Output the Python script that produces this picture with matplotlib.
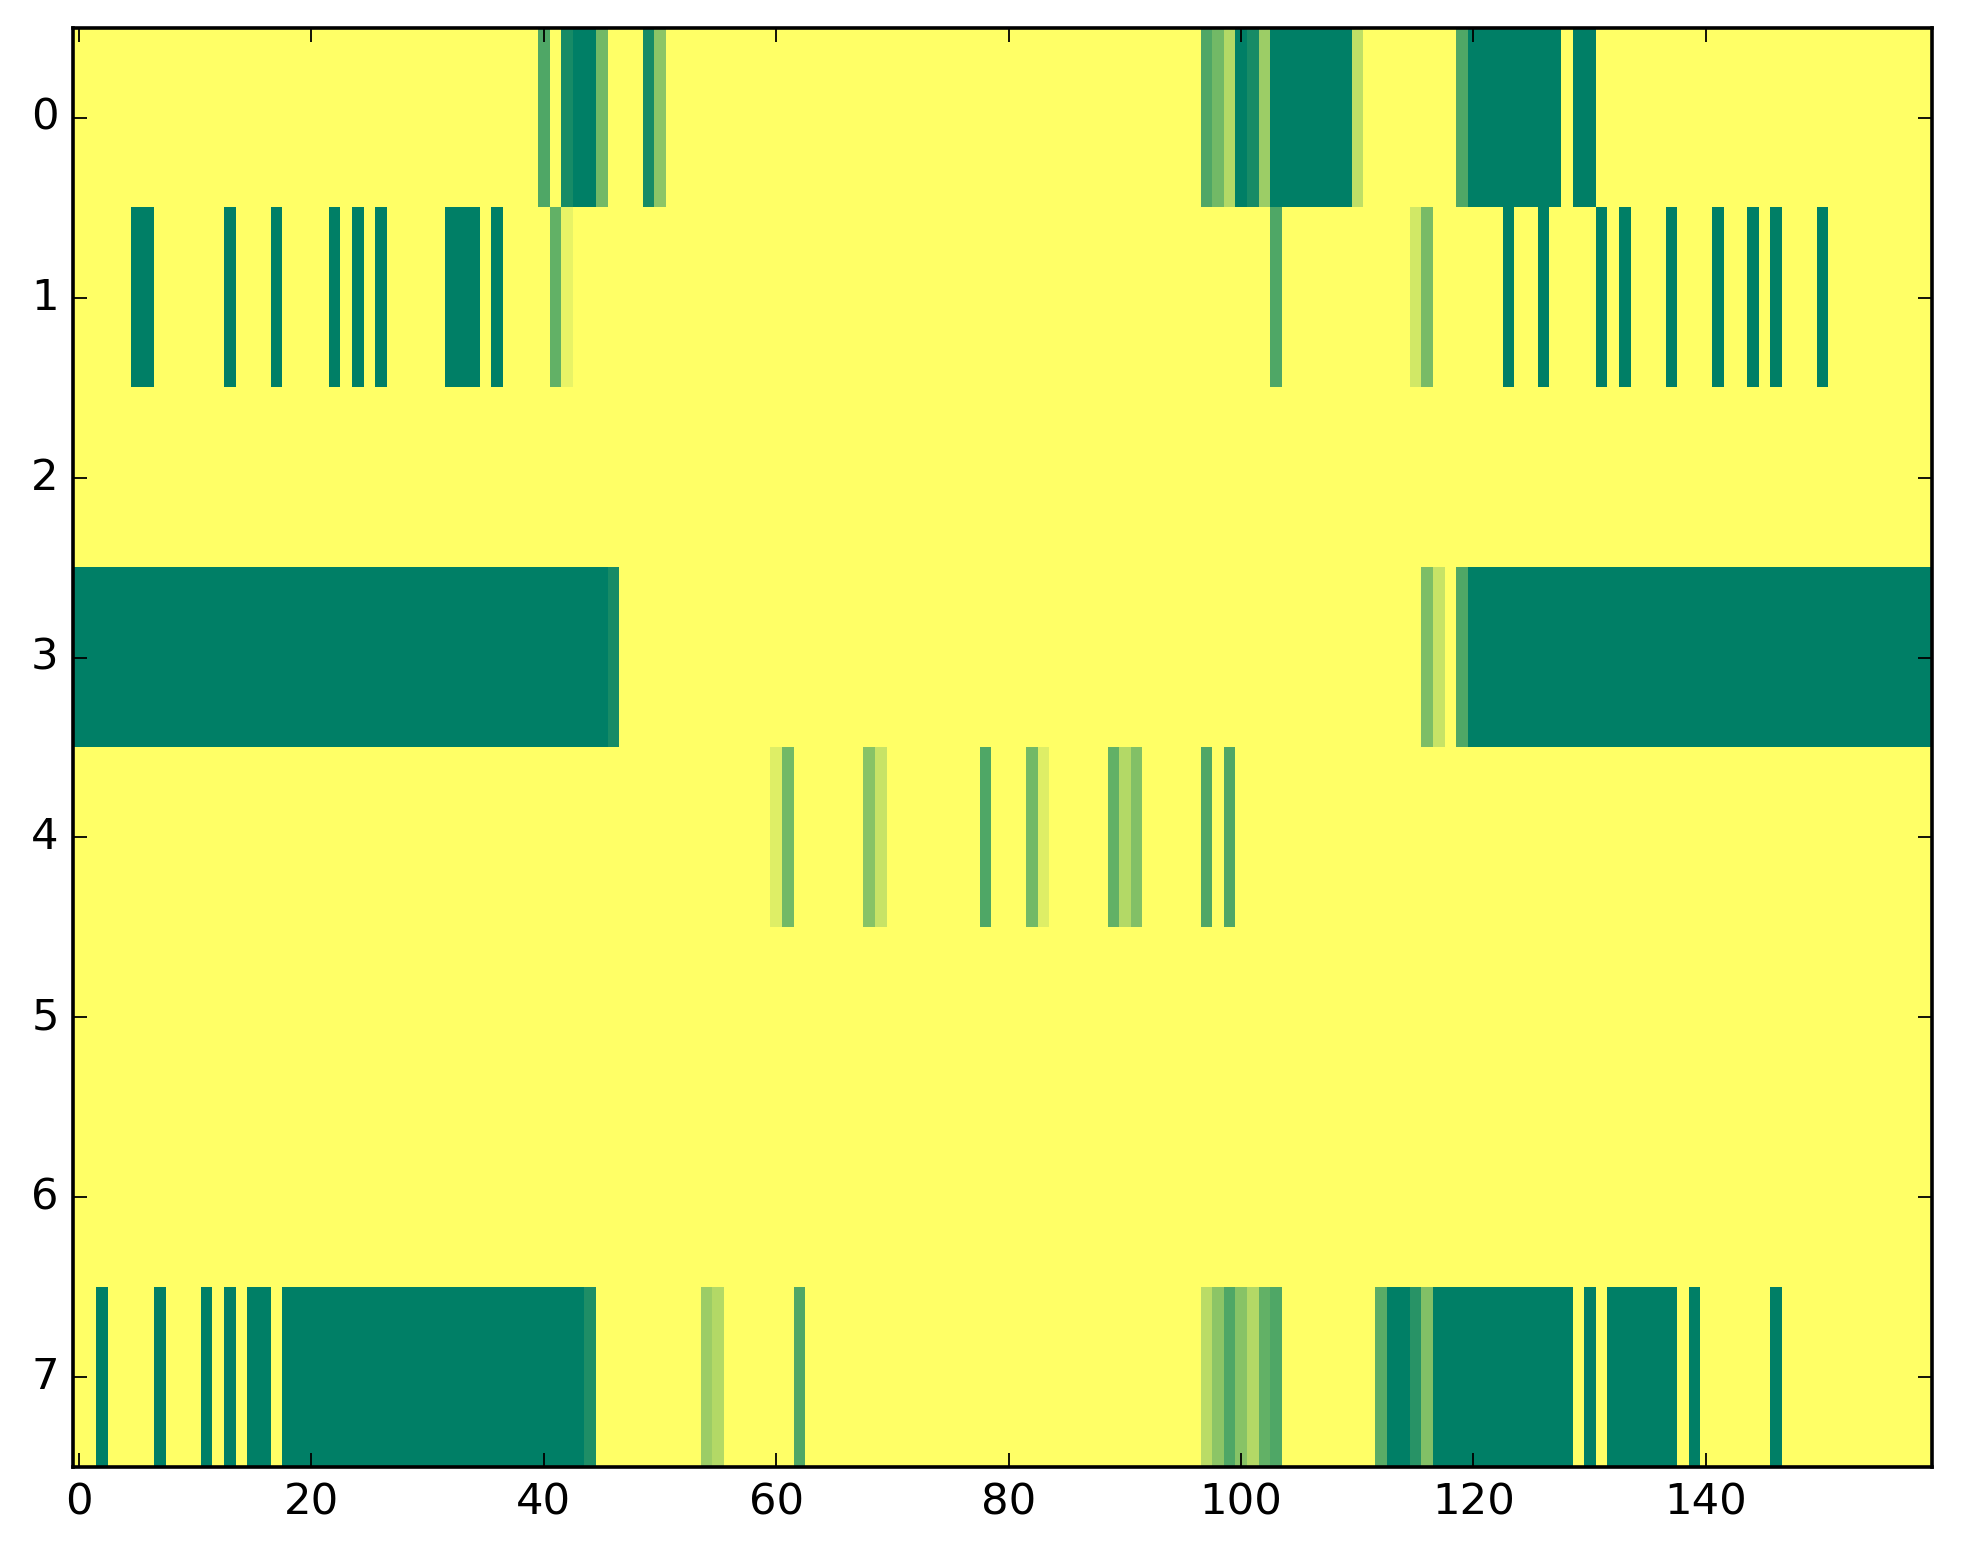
import numpy as np
import matplotlib
matplotlib.use('Agg')
import matplotlib.pyplot as plt

n_rows = 8
n_cols = 160

# (first column, last column, value) runs per row, everything else is 0
row0 = [(40, 40, 0.69), (42, 42, 0.91), (43, 44, 1.0), (45, 45, 0.55),
        (49, 49, 0.91), (50, 50, 0.45),
        (97, 97, 0.69), (98, 98, 0.55), (99, 99, 0.30), (100, 100, 1.0),
        (101, 101, 0.91), (102, 102, 0.39), (103, 109, 1.0), (110, 110, 0.25),
        (119, 119, 0.69), (120, 127, 1.0), (129, 130, 1.0)]
row1 = [(5, 6, 1.0), (13, 13, 1.0), (17, 17, 1.0), (22, 22, 1.0), (24, 24, 1.0),
        (26, 26, 1.0), (32, 34, 1.0), (36, 36, 1.0), (41, 41, 0.61), (42, 42, 0.09),
        (103, 103, 0.69), (115, 115, 0.18), (116, 116, 0.53),
        (123, 123, 1.0), (126, 126, 1.0), (131, 131, 1.0), (133, 133, 1.0),
        (137, 137, 1.0), (141, 141, 1.0), (144, 144, 1.0), (146, 146, 1.0),
        (150, 150, 1.0)]
row2 = []
row3 = [(0, 45, 1.0), (46, 46, 0.91), (116, 116, 0.51), (117, 117, 0.22),
        (119, 119, 0.69), (120, 159, 1.0)]
row4 = [(60, 60, 0.13), (61, 61, 0.55), (68, 68, 0.47), (69, 69, 0.22),
        (78, 78, 0.69), (82, 82, 0.55), (83, 83, 0.13), (89, 89, 0.61),
        (90, 90, 0.30), (91, 91, 0.49), (97, 97, 0.69), (99, 99, 0.69)]
row5 = []
row6 = []
row7 = [(2, 2, 1.0), (7, 7, 1.0), (11, 11, 1.0), (13, 13, 1.0), (15, 16, 1.0),
        (18, 43, 1.0), (44, 44, 0.88), (54, 54, 0.39), (55, 55, 0.30),
        (62, 62, 0.69), (97, 97, 0.27), (98, 98, 0.45), (99, 99, 0.69),
        (100, 100, 0.47), (101, 101, 0.30), (102, 102, 0.61), (103, 103, 0.69),
        (112, 112, 0.65), (113, 114, 1.0), (115, 115, 0.84), (116, 116, 0.49),
        (117, 128, 1.0), (130, 130, 1.0), (132, 137, 1.0), (139, 139, 1.0),
        (146, 146, 1.0)]

rows = [row0, row1, row2, row3, row4, row5, row6, row7]

data = np.zeros((n_rows, n_cols))
for r, runs in enumerate(rows):
    for a, b, v in runs:
        data[r, a:b + 1] = v

plt.style.use('classic')
fig = plt.figure(figsize=(1963 / 260, 1564 / 260), dpi=260, facecolor='white')
ax = fig.add_axes([0.0373, 0.0620, 0.9471, 0.9201])
ax.imshow(data, cmap='summer_r', aspect='auto', interpolation='nearest',
          vmin=0, vmax=1)
ax.set_xticks(np.arange(0, 160, 20))
ax.set_yticks(np.arange(0, 8))
ax.set_xlim(-0.5, n_cols - 0.5)
ax.set_ylim(n_rows - 0.5, -0.5)

fig.savefig('out.png', dpi=260, facecolor='white')
